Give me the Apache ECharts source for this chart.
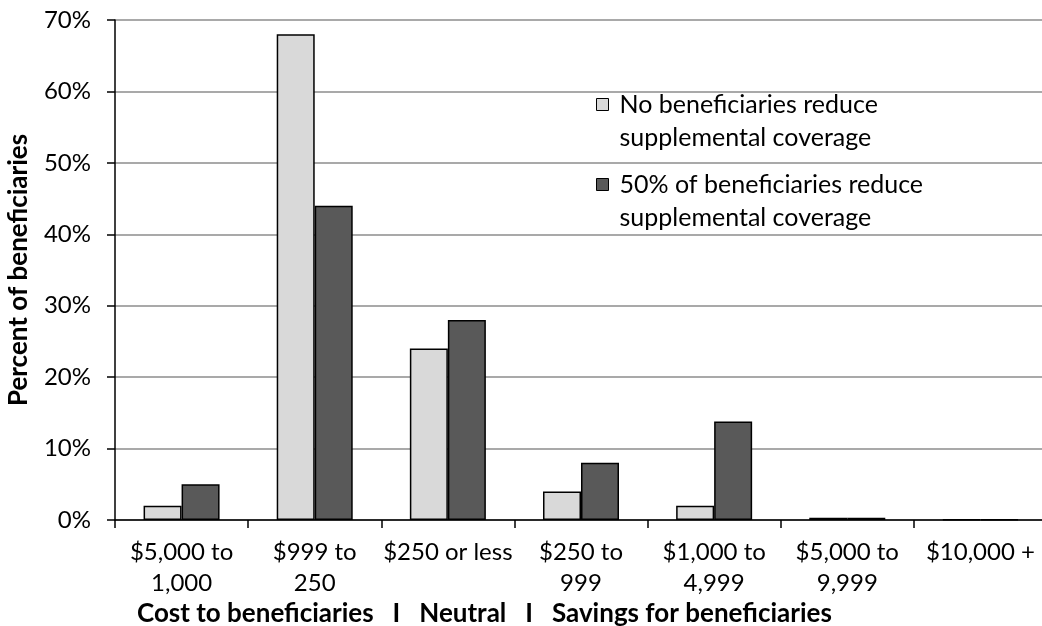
<!DOCTYPE html>
<html lang="en">
<head>
    <meta charset="UTF-8">
    <title>Beneficiary cost and savings</title>
    <script src="https://cdn.jsdelivr.net/npm/echarts@6/dist/echarts.min.js"></script>
    <style>
        body { margin: 0; background: #fff; }
        #main { width: 1042px; height: 626px; }
    </style>
</head>
<body>
<div id="main"></div>
<script>
    // data
    var categories = ['$5,000 to\n1,000', '$999 to\n250', '$250 or less', '$250 to\n999', '$1,000 to\n4,999', '$5,000 to\n9,999', '$10,000 +'];
    var seriesNames = ['No beneficiaries reduce\nsupplemental coverage', '50% of beneficiaries reduce\nsupplemental coverage'];
    var noReduce = [2, 68, 24, 4, 2, 0.3, 0.1];
    var halfReduce = [5, 44, 28, 8, 13.8, 0.3, 0.1];
    var yTicks = [0, 10, 20, 30, 40, 50, 60, 70];

    var font = 'Lato';
    var myChart = echarts.init(document.getElementById('main'));
    var option = {
        animation: false,
        textStyle: { fontFamily: font },
        title: {
            text: 'Cost to beneficiaries   I   Neutral   I   Savings for beneficiaries',
            left: 132,
            top: 596,
            textStyle: { fontFamily: font, fontSize: 26, fontWeight: 'bold', color: '#000' }
        },
        legend: {
            orient: 'vertical',
            left: 596,
            top: 55,
            padding: 0,
            icon: 'rect',
            itemWidth: 12,
            itemHeight: 12,
            itemGap: -19,
            data: seriesNames,
            // empty first line so the box sits beside the first text line
            formatter: function (name) { return '\n' + name; },
            textStyle: { fontFamily: font, fontSize: 25, color: '#000', lineHeight: 33, padding: [0, 0, 0, 6] },
            itemStyle: { borderColor: '#000', borderWidth: 1 }
        },
        grid: { left: 115, right: -5, top: 20, bottom: 106, outerBoundsMode: 'none' },
        xAxis: {
            type: 'category',
            data: categories,
            axisLine: { lineStyle: { color: '#000', width: 1.5 } },
            axisTick: { show: true, length: 8, lineStyle: { color: '#000', width: 1.5 } },
            axisLabel: { color: '#000', fontSize: 24, lineHeight: 31, margin: 17, interval: 0 }
        },
        yAxis: {
            type: 'value',
            min: yTicks[0],
            max: yTicks[yTicks.length - 1],
            interval: 10,
            name: 'Percent of beneficiaries',
            nameLocation: 'middle',
            nameGap: 83,
            nameTextStyle: { fontFamily: font, fontSize: 26, fontWeight: 'bold', color: '#000' },
            axisLine: { show: true, lineStyle: { color: '#000', width: 1.5 } },
            axisTick: { show: true, length: 8, lineStyle: { color: '#000', width: 1.5 } },
            axisLabel: { color: '#000', fontSize: 24, margin: 24, formatter: '{value}%' },
            splitLine: { lineStyle: { color: '#8c8c8c', width: 1.5 } }
        },
        series: [
            {
                name: seriesNames[0],
                type: 'bar',
                data: noReduce,
                barWidth: 38,
                barGap: '0%',
                itemStyle: { color: '#d9d9d9', borderColor: '#000', borderWidth: 1.5 }
            },
            {
                name: seriesNames[1],
                type: 'bar',
                data: halfReduce,
                barWidth: 38,
                barGap: '0%',
                itemStyle: { color: '#595959', borderColor: '#000', borderWidth: 1.5 }
            }
        ]
    };
    myChart.setOption(option);
</script>
</body>
</html>
